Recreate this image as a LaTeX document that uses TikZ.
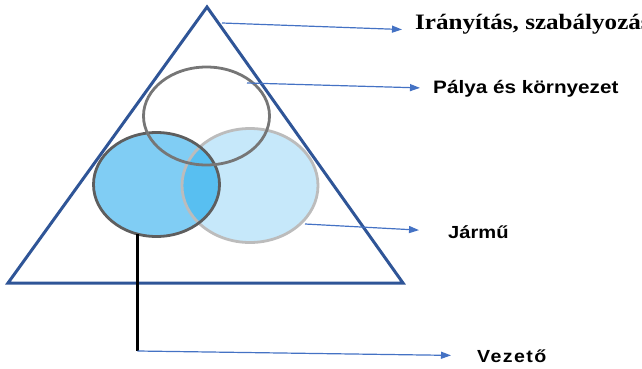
\documentclass[tikz,border=0pt]{standalone}
\usepackage{fontspec}
\setmainfont{Liberation Sans}
\newfontfamily\tagfont[FakeStretch=1.15]{Liberation Sans}
\newfontfamily\ctrlfont[FakeStretch=1.14]{Liberation Serif}
\newfontfamily\drvfont[FakeStretch=1.12, LetterSpace=8]{Liberation Sans}
\usetikzlibrary{arrows.meta, shapes.geometric}

\definecolor{frameblue}{HTML}{2F5597}
\definecolor{arrowblue}{HTML}{4472C4}
\definecolor{driverfill}{HTML}{80CDF4}
\definecolor{vehiclefill}{HTML}{C6E8FA}
\definecolor{overlapfill}{HTML}{58BFF1}
\definecolor{darkrim}{HTML}{5E5E5E}
\definecolor{lightrim}{HTML}{BCBCBC}

\begin{document}
\begin{tikzpicture}[x=1pt, y=-1pt,
  frame/.style={draw=frameblue, line width=3pt, line join=miter},
  blob/.style={ellipse, inner sep=0pt},
  rim/.style={line width=2.8pt},
  pointer/.style={-{Triangle[length=10pt,width=7pt]}, draw=arrowblue, line width=1.2pt},
  stem/.style={draw=black, line width=2.8pt},
  tag/.style={inner sep=0pt, anchor=base west, font=\tagfont\bfseries\fontsize{17.5}{20}\selectfont}
]
  \useasboundingbox (0,0) rectangle (642,369);

  % triangle
  \coordinate (apex) at (207,7);
  \coordinate (rightcorner) at (403,283);
  \coordinate (leftcorner) at (8,283);
  \draw[frame] (apex) -- (rightcorner) -- (leftcorner) -- cycle;

  % three circles, fills first
  \node[blob, fill=white, minimum width=126pt, minimum height=98pt] (track) at (206.5,116) {};
  \node[blob, fill=driverfill, minimum width=126pt, minimum height=104pt] (driver) at (156.5,184.5) {};
  \node[blob, fill=vehiclefill, minimum width=136pt, minimum height=114pt] (vehicle) at (250,185.5) {};
  \begin{scope}
    \clip (driver.center) ellipse [x radius=63pt, y radius=52pt];
    \fill[overlapfill] (vehicle.center) ellipse [x radius=68pt, y radius=57pt];
  \end{scope}
  \draw[rim, draw=lightrim] (vehicle.center) ellipse [x radius=68pt, y radius=57pt];
  \draw[rim, draw=darkrim] (driver.center) ellipse [x radius=63pt, y radius=52pt];
  \draw[rim, draw=darkrim!85!white] (track.center) ellipse [x radius=63pt, y radius=49pt];

  % labels
  \node[tag, font=\ctrlfont\bfseries\fontsize{22}{25}\selectfont] (ctrl) at (415,30) {Irányítás, szabályozás};
  \node[tag, font=\tagfont\bfseries\fontsize{18}{20}\selectfont] (tracklbl) at (433,93) {Pálya és környezet};
  \node[tag] (vehlbl) at (448,238) {Jármű};
  \node[tag, font=\drvfont\bfseries\fontsize{17.5}{20}\selectfont] (drvlbl) at (477,362) {Vezető};

  % pointers
  \coordinate (ctrlfrom) at (222,23);
  \coordinate (trackfrom) at (247,83);
  \coordinate (vehfrom) at (305,224);
  \coordinate (knee) at (137.5,351);
  \draw[pointer, shorten >=13pt] (ctrlfrom) -- (ctrl.base west);
  \draw[pointer, shorten >=13pt] (trackfrom) -- (tracklbl.west);
  \draw[pointer, shorten >=29pt] (vehfrom) -- (vehlbl.west);
  \draw[stem] (driver.249) -- (driver.249 |- knee);
  \draw[pointer, shorten >=26pt] (knee) -- (drvlbl.west);
\end{tikzpicture}
\end{document}
